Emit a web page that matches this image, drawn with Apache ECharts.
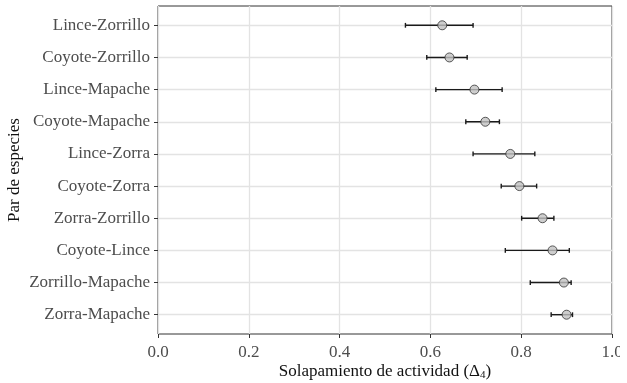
<!DOCTYPE html>
<html>
<head>
<meta charset="utf-8">
<script src="https://cdn.jsdelivr.net/npm/echarts@6/dist/echarts.min.js"></script>
<style>
  html, body { margin: 0; padding: 0; background: #fff; }
  #chart { width: 620px; height: 383px; }
</style>
</head>
<body>
<div id="chart"></div>
<script>
// pares de especies, de arriba a abajo
const pairs = ['Lince-Zorrillo', 'Coyote-Zorrillo', 'Lince-Mapache', 'Coyote-Mapache', 'Lince-Zorra',
  'Coyote-Zorra', 'Zorra-Zorrillo', 'Coyote-Lince', 'Zorrillo-Mapache', 'Zorra-Mapache']
const overlap = [0.626, 0.642, 0.697, 0.721, 0.776, 0.796, 0.847, 0.869, 0.894, 0.900]
const lower = [0.545, 0.592, 0.612, 0.678, 0.694, 0.756, 0.801, 0.765, 0.820, 0.866]
const upper = [0.694, 0.681, 0.758, 0.752, 0.830, 0.834, 0.872, 0.906, 0.910, 0.913]
const xTicks = [0, 0.2, 0.4, 0.6, 0.8, 1.0]

const serif = 'Liberation Serif'
const rows = pairs.map((p, i) => i + 1)

const chart = echarts.init(document.getElementById('chart'))

const option = {
  animation: false,
  grid: {
    left: 158, right: 8, top: 6, bottom: 49,
    outerBoundsMode: 'none',
    containLabel: false,
    show: true, borderColor: '#333', borderWidth: 1
  },
  xAxis: {
    type: 'value',
    min: 0, max: 1, interval: 0.2,
    axisLine: { show: false },
    axisTick: { show: true, length: 4, lineStyle: { color: '#333' } },
    axisLabel: {
      color: '#4d4d4d', fontFamily: serif, fontSize: 17, margin: 10,
      customValues: xTicks,
      formatter: v => v.toFixed(1)
    },
    splitLine: { lineStyle: { color: '#e3e3e3', width: 1.3 } },
    name: 'Solapamiento de actividad (Δ{sub|4})',
    nameLocation: 'middle',
    nameGap: 29,
    nameMoveOverlap: false,
    nameTextStyle: {
      color: '#111', fontFamily: serif, fontSize: 17,
      rich: { sub: { fontFamily: serif, fontSize: 11, verticalAlign: 'bottom', padding: [7, 0, 0, 0] } }
    }
  },
  yAxis: {
    type: 'value',
    min: 0.4, max: 10.6,
    inverse: true,
    axisLine: { show: false },
    axisTick: { show: true, length: 4, lineStyle: { color: '#333' }, customValues: rows },
    axisLabel: {
      color: '#4d4d4d', fontFamily: serif, fontSize: 17, margin: 8,
      customValues: rows,
      formatter: v => pairs[Math.round(v) - 1]
    },
    splitLine: { lineStyle: { color: '#e3e3e3', width: 1.3 } },
    name: 'Par de especies',
    nameLocation: 'middle',
    nameGap: 135,
    nameRotate: 90,
    nameMoveOverlap: false,
    nameTextStyle: { color: '#111', fontFamily: serif, fontSize: 17 }
  },
  series: [
    {
      type: 'custom',
      data: pairs.map((p, i) => [lower[i], upper[i], i + 1]),
      renderItem: (params, api) => {
        const a = api.coord([api.value(0), api.value(2)])
        const b = api.coord([api.value(1), api.value(2)])
        const cap = 2.4
        const style = { stroke: '#1a1a1a', lineWidth: 1.4 }
        return {
          type: 'group',
          children: [
            { type: 'line', shape: { x1: a[0], y1: a[1], x2: b[0], y2: b[1] }, style },
            { type: 'line', shape: { x1: a[0], y1: a[1] - cap, x2: a[0], y2: a[1] + cap }, style },
            { type: 'line', shape: { x1: b[0], y1: b[1] - cap, x2: b[0], y2: b[1] + cap }, style }
          ]
        }
      },
      z: 2
    },
    {
      type: 'scatter',
      data: pairs.map((p, i) => [overlap[i], i + 1]),
      symbol: 'circle',
      symbolSize: 9,
      itemStyle: { color: '#c2c2c2', borderColor: '#333', borderWidth: 1 },
      z: 3
    }
  ]
}

chart.setOption(option)
</script>
</body>
</html>
